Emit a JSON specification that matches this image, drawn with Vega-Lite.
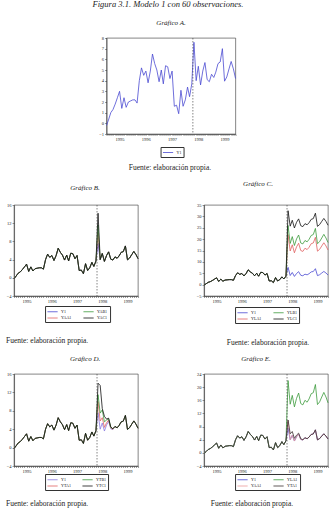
{
  "$schema": "https://vega.github.io/schema/vega-lite/v6.json",
  "padding": {"top": 0, "left": 5, "right": 0, "bottom": 0},
  "title": {"text": "Figura 3.1. Modelo 1 con 60 observaciones.", "fontSize": 8.5, "offset": 8, "dy": -2, "anchor": "middle"},
  "datasets": {
    "quiebre": [{"d": "1998-04-16"}],
    "obs": [
      {"d": "1995-01", "Y1": -0.2, "YAA1": -0.2, "YAB1": -0.2, "YAC1": -0.2, "YLA1": -0.2, "YLB1": -0.2, "YLC1": -0.2, "YTA1": -0.2, "YTB1": -0.2, "YTC1": -0.2},
      {"d": "1995-02", "Y1": 0.4, "YAA1": 0.4, "YAB1": 0.4, "YAC1": 0.4, "YLA1": 0.4, "YLB1": 0.4, "YLC1": 0.4, "YTA1": 0.4, "YTB1": 0.4, "YTC1": 0.4},
      {"d": "1995-03", "Y1": 1.0, "YAA1": 1.0, "YAB1": 1.0, "YAC1": 1.0, "YLA1": 1.0, "YLB1": 1.0, "YLC1": 1.0, "YTA1": 1.0, "YTB1": 1.0, "YTC1": 1.0},
      {"d": "1995-04", "Y1": 1.3, "YAA1": 1.3, "YAB1": 1.3, "YAC1": 1.3, "YLA1": 1.3, "YLB1": 1.3, "YLC1": 1.3, "YTA1": 1.3, "YTB1": 1.3, "YTC1": 1.3},
      {"d": "1995-05", "Y1": 1.8, "YAA1": 1.8, "YAB1": 1.8, "YAC1": 1.8, "YLA1": 1.8, "YLB1": 1.8, "YLC1": 1.8, "YTA1": 1.8, "YTB1": 1.8, "YTC1": 1.8},
      {"d": "1995-06", "Y1": 2.4, "YAA1": 2.4, "YAB1": 2.4, "YAC1": 2.4, "YLA1": 2.4, "YLB1": 2.4, "YLC1": 2.4, "YTA1": 2.4, "YTB1": 2.4, "YTC1": 2.4},
      {"d": "1995-07", "Y1": 3.0, "YAA1": 3.0, "YAB1": 3.0, "YAC1": 3.0, "YLA1": 3.0, "YLB1": 3.0, "YLC1": 3.0, "YTA1": 3.0, "YTB1": 3.0, "YTC1": 3.0},
      {"d": "1995-08", "Y1": 1.4, "YAA1": 1.4, "YAB1": 1.4, "YAC1": 1.4, "YLA1": 1.4, "YLB1": 1.4, "YLC1": 1.4, "YTA1": 1.4, "YTB1": 1.4, "YTC1": 1.4},
      {"d": "1995-09", "Y1": 2.4, "YAA1": 2.4, "YAB1": 2.4, "YAC1": 2.4, "YLA1": 2.4, "YLB1": 2.4, "YLC1": 2.4, "YTA1": 2.4, "YTB1": 2.4, "YTC1": 2.4},
      {"d": "1995-10", "Y1": 1.5, "YAA1": 1.5, "YAB1": 1.5, "YAC1": 1.5, "YLA1": 1.5, "YLB1": 1.5, "YLC1": 1.5, "YTA1": 1.5, "YTB1": 1.5, "YTC1": 1.5},
      {"d": "1995-11", "Y1": 2.0, "YAA1": 2.0, "YAB1": 2.0, "YAC1": 2.0, "YLA1": 2.0, "YLB1": 2.0, "YLC1": 2.0, "YTA1": 2.0, "YTB1": 2.0, "YTC1": 2.0},
      {"d": "1995-12", "Y1": 2.1, "YAA1": 2.1, "YAB1": 2.1, "YAC1": 2.1, "YLA1": 2.1, "YLB1": 2.1, "YLC1": 2.1, "YTA1": 2.1, "YTB1": 2.1, "YTC1": 2.1},
      {"d": "1996-01", "Y1": 2.2, "YAA1": 2.2, "YAB1": 2.2, "YAC1": 2.2, "YLA1": 2.2, "YLB1": 2.2, "YLC1": 2.2, "YTA1": 2.2, "YTB1": 2.2, "YTC1": 2.2},
      {"d": "1996-02", "Y1": 2.2, "YAA1": 2.2, "YAB1": 2.2, "YAC1": 2.2, "YLA1": 2.2, "YLB1": 2.2, "YLC1": 2.2, "YTA1": 2.2, "YTB1": 2.2, "YTC1": 2.2},
      {"d": "1996-03", "Y1": 1.9, "YAA1": 1.9, "YAB1": 1.9, "YAC1": 1.9, "YLA1": 1.9, "YLB1": 1.9, "YLC1": 1.9, "YTA1": 1.9, "YTB1": 1.9, "YTC1": 1.9},
      {"d": "1996-04", "Y1": 4.0, "YAA1": 4.0, "YAB1": 4.0, "YAC1": 4.0, "YLA1": 4.0, "YLB1": 4.0, "YLC1": 4.0, "YTA1": 4.0, "YTB1": 4.0, "YTC1": 4.0},
      {"d": "1996-05", "Y1": 5.2, "YAA1": 5.2, "YAB1": 5.2, "YAC1": 5.2, "YLA1": 5.2, "YLB1": 5.2, "YLC1": 5.2, "YTA1": 5.2, "YTB1": 5.2, "YTC1": 5.2},
      {"d": "1996-06", "Y1": 4.5, "YAA1": 4.5, "YAB1": 4.5, "YAC1": 4.5, "YLA1": 4.5, "YLB1": 4.5, "YLC1": 4.5, "YTA1": 4.5, "YTB1": 4.5, "YTC1": 4.5},
      {"d": "1996-07", "Y1": 4.9, "YAA1": 4.9, "YAB1": 4.9, "YAC1": 4.9, "YLA1": 4.9, "YLB1": 4.9, "YLC1": 4.9, "YTA1": 4.9, "YTB1": 4.9, "YTC1": 4.9},
      {"d": "1996-08", "Y1": 3.8, "YAA1": 3.8, "YAB1": 3.8, "YAC1": 3.8, "YLA1": 3.8, "YLB1": 3.8, "YLC1": 3.8, "YTA1": 3.8, "YTB1": 3.8, "YTC1": 3.8},
      {"d": "1996-09", "Y1": 4.9, "YAA1": 4.9, "YAB1": 4.9, "YAC1": 4.9, "YLA1": 4.9, "YLB1": 4.9, "YLC1": 4.9, "YTA1": 4.9, "YTB1": 4.9, "YTC1": 4.9},
      {"d": "1996-10", "Y1": 6.5, "YAA1": 6.5, "YAB1": 6.5, "YAC1": 6.5, "YLA1": 6.5, "YLB1": 6.5, "YLC1": 6.5, "YTA1": 6.5, "YTB1": 6.5, "YTC1": 6.5},
      {"d": "1996-11", "Y1": 5.6, "YAA1": 5.6, "YAB1": 5.6, "YAC1": 5.6, "YLA1": 5.6, "YLB1": 5.6, "YLC1": 5.6, "YTA1": 5.6, "YTB1": 5.6, "YTC1": 5.6},
      {"d": "1996-12", "Y1": 5.0, "YAA1": 5.0, "YAB1": 5.0, "YAC1": 5.0, "YLA1": 5.0, "YLB1": 5.0, "YLC1": 5.0, "YTA1": 5.0, "YTB1": 5.0, "YTC1": 5.0},
      {"d": "1997-01", "Y1": 3.9, "YAA1": 3.9, "YAB1": 3.9, "YAC1": 3.9, "YLA1": 3.9, "YLB1": 3.9, "YLC1": 3.9, "YTA1": 3.9, "YTB1": 3.9, "YTC1": 3.9},
      {"d": "1997-02", "Y1": 5.0, "YAA1": 5.0, "YAB1": 5.0, "YAC1": 5.0, "YLA1": 5.0, "YLB1": 5.0, "YLC1": 5.0, "YTA1": 5.0, "YTB1": 5.0, "YTC1": 5.0},
      {"d": "1997-03", "Y1": 3.7, "YAA1": 3.7, "YAB1": 3.7, "YAC1": 3.7, "YLA1": 3.7, "YLB1": 3.7, "YLC1": 3.7, "YTA1": 3.7, "YTB1": 3.7, "YTC1": 3.7},
      {"d": "1997-04", "Y1": 5.4, "YAA1": 5.4, "YAB1": 5.4, "YAC1": 5.4, "YLA1": 5.4, "YLB1": 5.4, "YLC1": 5.4, "YTA1": 5.4, "YTB1": 5.4, "YTC1": 5.4},
      {"d": "1997-05", "Y1": 5.3, "YAA1": 5.3, "YAB1": 5.3, "YAC1": 5.3, "YLA1": 5.3, "YLB1": 5.3, "YLC1": 5.3, "YTA1": 5.3, "YTB1": 5.3, "YTC1": 5.3},
      {"d": "1997-06", "Y1": 4.2, "YAA1": 4.2, "YAB1": 4.2, "YAC1": 4.2, "YLA1": 4.2, "YLB1": 4.2, "YLC1": 4.2, "YTA1": 4.2, "YTB1": 4.2, "YTC1": 4.2},
      {"d": "1997-07", "Y1": 4.9, "YAA1": 4.9, "YAB1": 4.9, "YAC1": 4.9, "YLA1": 4.9, "YLB1": 4.9, "YLC1": 4.9, "YTA1": 4.9, "YTB1": 4.9, "YTC1": 4.9},
      {"d": "1997-08", "Y1": 1.6, "YAA1": 1.6, "YAB1": 1.6, "YAC1": 1.6, "YLA1": 1.6, "YLB1": 1.6, "YLC1": 1.6, "YTA1": 1.6, "YTB1": 1.6, "YTC1": 1.6},
      {"d": "1997-09", "Y1": 1.7, "YAA1": 1.7, "YAB1": 1.7, "YAC1": 1.7, "YLA1": 1.7, "YLB1": 1.7, "YLC1": 1.7, "YTA1": 1.7, "YTB1": 1.7, "YTC1": 1.7},
      {"d": "1997-10", "Y1": 0.9, "YAA1": 0.9, "YAB1": 0.9, "YAC1": 0.9, "YLA1": 0.9, "YLB1": 0.9, "YLC1": 0.9, "YTA1": 0.9, "YTB1": 0.9, "YTC1": 0.9},
      {"d": "1997-11", "Y1": 3.1, "YAA1": 3.1, "YAB1": 3.1, "YAC1": 3.1, "YLA1": 3.1, "YLB1": 3.1, "YLC1": 3.1, "YTA1": 3.1, "YTB1": 3.1, "YTC1": 3.1},
      {"d": "1997-12", "Y1": 1.6, "YAA1": 1.6, "YAB1": 1.6, "YAC1": 1.6, "YLA1": 1.6, "YLB1": 1.6, "YLC1": 1.6, "YTA1": 1.6, "YTB1": 1.6, "YTC1": 1.6},
      {"d": "1998-01", "Y1": 2.2, "YAA1": 2.2, "YAB1": 2.2, "YAC1": 2.2, "YLA1": 2.2, "YLB1": 2.2, "YLC1": 2.2, "YTA1": 2.2, "YTB1": 2.2, "YTC1": 2.2},
      {"d": "1998-02", "Y1": 3.4, "YAA1": 3.4, "YAB1": 3.4, "YAC1": 3.4, "YLA1": 3.4, "YLB1": 3.4, "YLC1": 3.4, "YTA1": 3.4, "YTB1": 3.4, "YTC1": 3.4},
      {"d": "1998-03", "Y1": 2.5, "YAA1": 2.5, "YAB1": 2.5, "YAC1": 2.5, "YLA1": 2.5, "YLB1": 2.5, "YLC1": 2.5, "YTA1": 2.5, "YTB1": 2.5, "YTC1": 2.5},
      {"d": "1998-04", "Y1": 3.7, "YAA1": 3.7, "YAB1": 3.7, "YAC1": 3.7, "YLA1": 3.7, "YLB1": 3.7, "YLC1": 3.7, "YTA1": 3.7, "YTB1": 3.7, "YTC1": 3.7},
      {"d": "1998-05", "Y1": 7.6, "YAA1": 9.8, "YAB1": 11.6, "YAC1": 14.2, "YLA1": 22.0, "YLB1": 26.0, "YLC1": 32.5, "YTA1": 10.0, "YTB1": 11.5, "YTC1": 14.0},
      {"d": "1998-06", "Y1": 4.0, "YAA1": 4.0, "YAB1": 4.0, "YAC1": 4.0, "YLA1": 14.8, "YLB1": 18.1, "YLC1": 25.7, "YTA1": 5.8, "YTB1": 7.5, "YTC1": 13.5},
      {"d": "1998-07", "Y1": 5.35, "YAA1": 5.35, "YAB1": 5.35, "YAC1": 5.35, "YLA1": 17.5, "YLB1": 21.1, "YLC1": 28.3, "YTA1": 6.5, "YTB1": 8.2, "YTC1": 8.5},
      {"d": "1998-08", "Y1": 3.6, "YAA1": 3.6, "YAB1": 3.6, "YAC1": 3.6, "YLA1": 14.0, "YLB1": 17.2, "YLC1": 24.9, "YTA1": 4.4, "YTB1": 5.6, "YTC1": 6.8},
      {"d": "1998-09", "Y1": 4.9, "YAA1": 4.9, "YAB1": 4.9, "YAC1": 4.9, "YLA1": 16.6, "YLB1": 20.1, "YLC1": 27.4, "YTA1": 5.4, "YTB1": 6.0, "YTC1": 6.2},
      {"d": "1998-10", "Y1": 5.7, "YAA1": 5.7, "YAB1": 5.7, "YAC1": 5.7, "YLA1": 18.2, "YLB1": 21.8, "YLC1": 28.9, "YTA1": 6.0, "YTB1": 6.3, "YTC1": 6.4},
      {"d": "1998-11", "Y1": 4.1, "YAA1": 4.1, "YAB1": 4.1, "YAC1": 4.1, "YLA1": 15.0, "YLB1": 18.3, "YLC1": 25.9, "YTA1": 4.3, "YTB1": 4.4, "YTC1": 4.5},
      {"d": "1998-12", "Y1": 3.9, "YAA1": 3.9, "YAB1": 3.9, "YAC1": 3.9, "YLA1": 14.6, "YLB1": 17.9, "YLC1": 25.5, "YTA1": 4.0, "YTB1": 4.1, "YTC1": 4.1},
      {"d": "1999-01", "Y1": 4.6, "YAA1": 4.6, "YAB1": 4.6, "YAC1": 4.6, "YLA1": 16.0, "YLB1": 19.4, "YLC1": 26.8, "YTA1": 4.6, "YTB1": 4.6, "YTC1": 4.6},
      {"d": "1999-02", "Y1": 4.3, "YAA1": 4.3, "YAB1": 4.3, "YAC1": 4.3, "YLA1": 15.4, "YLB1": 18.8, "YLC1": 26.3, "YTA1": 4.3, "YTB1": 4.3, "YTC1": 4.3},
      {"d": "1999-03", "Y1": 4.8, "YAA1": 4.8, "YAB1": 4.8, "YAC1": 4.8, "YLA1": 16.4, "YLB1": 19.9, "YLC1": 27.2, "YTA1": 4.8, "YTB1": 4.8, "YTC1": 4.8},
      {"d": "1999-04", "Y1": 5.6, "YAA1": 5.6, "YAB1": 5.6, "YAC1": 5.6, "YLA1": 18.0, "YLB1": 21.6, "YLC1": 28.7, "YTA1": 5.6, "YTB1": 5.6, "YTC1": 5.6},
      {"d": "1999-05", "Y1": 5.75, "YAA1": 5.75, "YAB1": 5.75, "YAC1": 5.75, "YLA1": 18.3, "YLB1": 22.0, "YLC1": 29.0, "YTA1": 5.75, "YTB1": 5.75, "YTC1": 5.75},
      {"d": "1999-06", "Y1": 7.0, "YAA1": 7.0, "YAB1": 7.0, "YAC1": 7.0, "YLA1": 20.8, "YLB1": 24.7, "YLC1": 31.4, "YTA1": 7.0, "YTB1": 7.0, "YTC1": 7.0},
      {"d": "1999-07", "Y1": 3.95, "YAA1": 3.95, "YAB1": 3.95, "YAC1": 3.95, "YLA1": 14.7, "YLB1": 18.0, "YLC1": 25.6, "YTA1": 3.95, "YTB1": 3.95, "YTC1": 3.95},
      {"d": "1999-08", "Y1": 4.35, "YAA1": 4.35, "YAB1": 4.35, "YAC1": 4.35, "YLA1": 15.5, "YLB1": 18.9, "YLC1": 26.4, "YTA1": 4.35, "YTB1": 4.35, "YTC1": 4.35},
      {"d": "1999-09", "Y1": 5.1, "YAA1": 5.1, "YAB1": 5.1, "YAC1": 5.1, "YLA1": 17.0, "YLB1": 20.5, "YLC1": 27.8, "YTA1": 5.1, "YTB1": 5.1, "YTC1": 5.1},
      {"d": "1999-10", "Y1": 5.8, "YAA1": 5.8, "YAB1": 5.8, "YAC1": 5.8, "YLA1": 18.4, "YLB1": 22.1, "YLC1": 29.1, "YTA1": 5.8, "YTB1": 5.8, "YTC1": 5.8},
      {"d": "1999-11", "Y1": 5.1, "YAA1": 5.1, "YAB1": 5.1, "YAC1": 5.1, "YLA1": 17.0, "YLB1": 20.5, "YLC1": 27.8, "YTA1": 5.1, "YTB1": 5.1, "YTC1": 5.1},
      {"d": "1999-12", "Y1": 4.2, "YAA1": 4.2, "YAB1": 4.2, "YAC1": 4.2, "YLA1": 15.2, "YLB1": 18.5, "YLC1": 26.1, "YTA1": 4.2, "YTB1": 4.2, "YTC1": 4.2}
    ]
  },
  "config": {
    "font": "Liberation Serif",
    "title": {"font": "Liberation Serif", "fontStyle": "italic", "fontWeight": "normal", "fontSize": 7, "color": "#222", "offset": 9},
    "axis": {"labelFont": "Liberation Serif", "labelFontSize": 4.5, "labelColor": "#222", "tickColor": "#333", "tickSize": 2, "tickWidth": 0.5, "domainColor": "#333", "domainWidth": 0.6, "labelPadding": 1, "grid": false, "title": null},
    "view": {"stroke": "#333", "strokeWidth": 0.6},
    "legend": {"orient": "none", "direction": "horizontal", "strokeColor": "#333", "padding": 2, "symbolType": "M-1.7,0H1.7", "symbolSize": 36, "symbolStrokeWidth": 0.8, "symbolOffset": 2, "labelFont": "Liberation Serif", "labelFontSize": 4, "labelColor": "#111", "labelOffset": 5, "columnPadding": 9, "rowPadding": 0.5, "title": null},
    "line": {"strokeWidth": 0.8},
    "rule": {"strokeDash": [1.5, 1.5], "stroke": "#333", "strokeWidth": 0.6}
  },
  "resolve": {"scale": {"color": "independent", "x": "independent", "y": "independent"}, "legend": {"color": "independent"}},
  "center": true,
  "spacing": 7,
  "vconcat": [
    {
      "title": {"text": "Fuente: elaboración propia.", "orient": "bottom", "anchor": "middle", "fontStyle": "normal", "fontSize": 7.5, "offset": 6, "dx": 2},
      "resolve": {"scale": {"color": "independent"}, "legend": {"color": "independent"}},
      "vconcat": [
        {
          "width": 129, "height": 96,
          "title": {"text": "Gráfico A."},
          "layer": [
            {
              "data": {"name": "obs"},
              "transform": [{"fold": ["Y1"], "as": ["serie", "valor"]}],
              "mark": "line",
              "encoding": {
                "x": {"field": "d", "type": "temporal", "scale": {"type": "utc"}, "axis": {"tickCount": {"interval": "month", "step": 1}, "tickSize": 1.5, "labelExpr": "utcmonth(datum.value) == 6 ? utcFormat(datum.value, '%Y') : ''", "labelOverlap": false, "labelFlush": false}},
                "y": {"field": "valor", "type": "quantitative", "scale": {"domain": [-1, 8], "nice": false, "zero": false}, "axis": {"values": [-1, 0, 1, 2, 3, 4, 5, 6, 7, 8]}},
                "color": {"field": "serie", "type": "nominal", "scale": {"domain": ["Y1"], "range": ["#4a4ad2"]}, "legend": {"title": null, "legendX": 54, "legendY": 109}}
              }
            },
            {"data": {"name": "quiebre"}, "mark": "rule", "encoding": {"x": {"field": "d", "type": "temporal"}}}
          ]
        }
      ]
    },
    {
      "spacing": 55,
      "resolve": {"scale": {"color": "independent"}, "legend": {"color": "independent"}},
      "hconcat": [
        {
          "title": {"text": "Fuente: elaboración propia.", "orient": "bottom", "anchor": "start", "fontStyle": "normal", "fontSize": 7.5, "offset": 14},
          "resolve": {"scale": {"color": "independent"}, "legend": {"color": "independent"}},
          "vconcat": [
            {
              "width": 124, "height": 91,
              "title": {"text": "Gráfico B.", "dx": 9, "offset": 11},
              "layer": [
                {
                  "data": {"name": "obs"},
                  "transform": [{"fold": ["Y1", "YAA1", "YAB1", "YAC1"], "as": ["serie", "valor"]}],
                  "mark": "line",
                  "encoding": {
                    "x": {"field": "d", "type": "temporal", "scale": {"type": "utc"}, "axis": {"tickCount": {"interval": "month", "step": 1}, "tickSize": 1.5, "labelExpr": "utcmonth(datum.value) == 6 ? utcFormat(datum.value, '%Y') : ''", "labelOverlap": false, "labelFlush": false}},
                    "y": {"field": "valor", "type": "quantitative", "scale": {"domain": [-4, 16], "nice": false, "zero": false}, "axis": {"values": [-4, 0, 4, 8, 12, 16]}},
                    "color": {"field": "serie", "type": "nominal", "scale": {"domain": ["Y1", "YAA1", "YAB1", "YAC1"], "range": ["#4a4ad2", "#e06060", "#3c9a3c", "#111111"]}, "legend": {"title": null, "columns": 2, "values": ["Y1", "YAB1", "YAA1", "YAC1"], "legendX": 31, "legendY": 101}}
                  }
                },
                {"data": {"name": "quiebre"}, "mark": "rule", "encoding": {"x": {"field": "d", "type": "temporal"}}}
              ]
            }
          ]
        },
        {
          "title": {"text": "Fuente: elaboración propia.", "orient": "bottom", "anchor": "middle", "fontStyle": "normal", "fontSize": 7.5, "offset": 15, "dx": 5},
          "resolve": {"scale": {"color": "independent"}, "legend": {"color": "independent"}},
          "vconcat": [
            {
              "width": 124, "height": 91,
              "title": {"text": "Gráfico C.", "dx": -8, "offset": 15},
              "layer": [
                {
                  "data": {"name": "obs"},
                  "transform": [{"fold": ["Y1", "YLA1", "YLB1", "YLC1"], "as": ["serie", "valor"]}],
                  "mark": "line",
                  "encoding": {
                    "x": {"field": "d", "type": "temporal", "scale": {"type": "utc"}, "axis": {"tickCount": {"interval": "month", "step": 1}, "tickSize": 1.5, "labelExpr": "utcmonth(datum.value) == 6 ? utcFormat(datum.value, '%Y') : ''", "labelOverlap": false, "labelFlush": false}},
                    "y": {"field": "valor", "type": "quantitative", "scale": {"domain": [-5, 35], "nice": false, "zero": false}, "axis": {"values": [-5, 0, 5, 10, 15, 20, 25, 30, 35]}},
                    "color": {"field": "serie", "type": "nominal", "scale": {"domain": ["Y1", "YLA1", "YLB1", "YLC1"], "range": ["#4a4ad2", "#e06060", "#3c9a3c", "#111111"]}, "legend": {"title": null, "columns": 2, "values": ["Y1", "YLB1", "YLA1", "YLC1"], "legendX": 31, "legendY": 102}}
                  }
                },
                {"data": {"name": "quiebre"}, "mark": "rule", "encoding": {"x": {"field": "d", "type": "temporal"}}}
              ]
            }
          ]
        }
      ]
    },
    {
      "spacing": 55,
      "resolve": {"scale": {"color": "independent"}, "legend": {"color": "independent"}},
      "hconcat": [
        {
          "title": {"text": "Fuente: elaboración propia.", "orient": "bottom", "anchor": "start", "fontStyle": "normal", "fontSize": 7.5, "offset": 9},
          "resolve": {"scale": {"color": "independent"}, "legend": {"color": "independent"}},
          "vconcat": [
            {
              "width": 124, "height": 92,
              "title": {"text": "Gráfico D.", "dx": 9, "offset": 9},
              "layer": [
                {
                  "data": {"name": "obs"},
                  "transform": [{"fold": ["Y1", "YTA1", "YTB1", "YTC1"], "as": ["serie", "valor"]}],
                  "mark": "line",
                  "encoding": {
                    "x": {"field": "d", "type": "temporal", "scale": {"type": "utc"}, "axis": {"tickCount": {"interval": "month", "step": 1}, "tickSize": 1.5, "labelExpr": "utcmonth(datum.value) == 6 ? utcFormat(datum.value, '%Y') : ''", "labelOverlap": false, "labelFlush": false}},
                    "y": {"field": "valor", "type": "quantitative", "scale": {"domain": [-4, 16], "nice": false, "zero": false}, "axis": {"values": [-4, 0, 4, 8, 12, 16]}},
                    "color": {"field": "serie", "type": "nominal", "scale": {"domain": ["Y1", "YTA1", "YTB1", "YTC1"], "range": ["#8a7ae0", "#e06060", "#3c9a3c", "#111111"]}, "legend": {"title": null, "columns": 2, "values": ["Y1", "YTB1", "YTA1", "YTC1"], "legendX": 31, "legendY": 100}}
                  }
                },
                {"data": {"name": "quiebre"}, "mark": "rule", "encoding": {"x": {"field": "d", "type": "temporal"}}}
              ]
            }
          ]
        },
        {
          "title": {"text": "Fuente: elaboración propia.", "orient": "bottom", "anchor": "middle", "fontStyle": "normal", "fontSize": 7.5, "offset": 9, "dx": -11},
          "resolve": {"scale": {"color": "independent"}, "legend": {"color": "independent"}},
          "vconcat": [
            {
              "width": 124, "height": 92,
              "title": {"text": "Gráfico E.", "dx": -10, "offset": 9},
              "layer": [
                {
                  "data": {"name": "obs"},
                  "transform": [{"fold": ["Y1", "YAA1", "YLA1", "YTA1"], "as": ["serie", "valor"]}],
                  "mark": "line",
                  "encoding": {
                    "x": {"field": "d", "type": "temporal", "scale": {"type": "utc"}, "axis": {"tickCount": {"interval": "month", "step": 1}, "tickSize": 1.5, "labelExpr": "utcmonth(datum.value) == 6 ? utcFormat(datum.value, '%Y') : ''", "labelOverlap": false, "labelFlush": false}},
                    "y": {"field": "valor", "type": "quantitative", "scale": {"domain": [-4, 24], "nice": false, "zero": false}, "axis": {"values": [-4, 0, 4, 8, 12, 16, 20, 24]}},
                    "color": {"field": "serie", "type": "nominal", "scale": {"domain": ["Y1", "YAA1", "YLA1", "YTA1"], "range": ["#4a4ad2", "#eb9a9a", "#3c9a3c", "#3a3030"]}, "legend": {"title": null, "columns": 2, "values": ["Y1", "YLA1", "YAA1", "YTA1"], "legendX": 31, "legendY": 100}}
                  }
                },
                {"data": {"name": "quiebre"}, "mark": "rule", "encoding": {"x": {"field": "d", "type": "temporal"}}}
              ]
            }
          ]
        }
      ]
    }
  ]
}
